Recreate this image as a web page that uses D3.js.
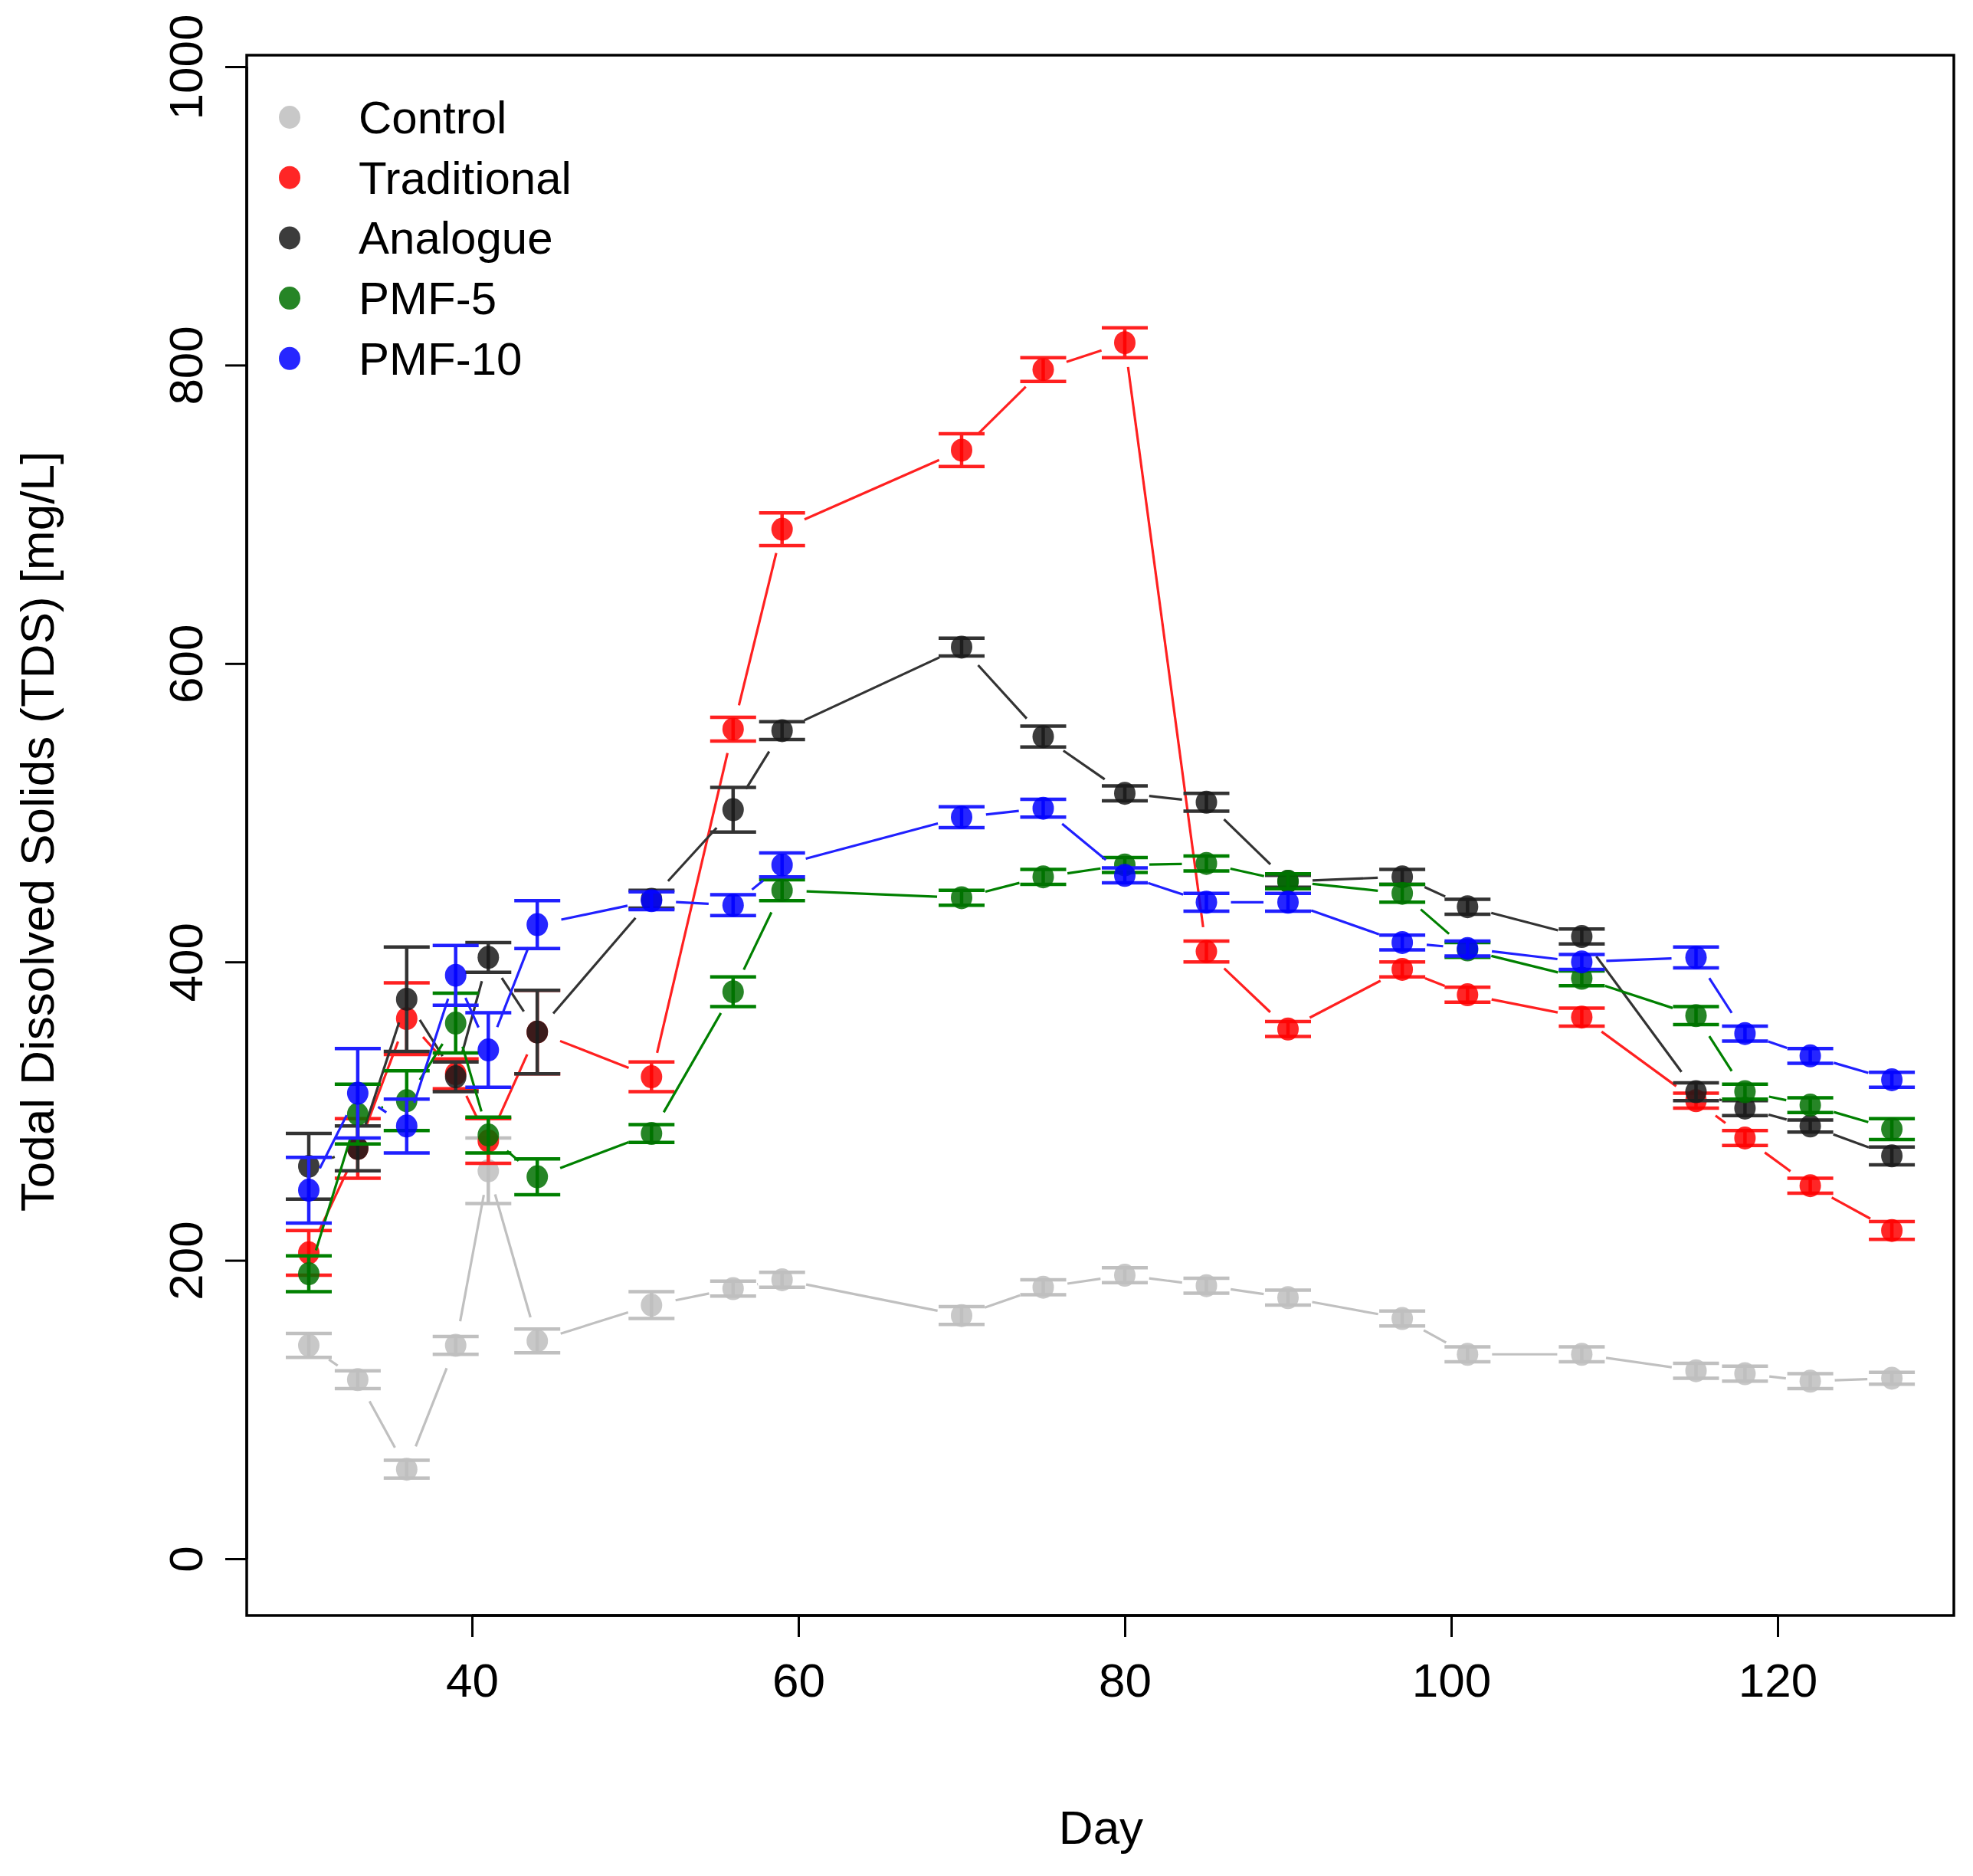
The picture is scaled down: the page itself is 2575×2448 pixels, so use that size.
<!DOCTYPE html>
<html><head><meta charset="utf-8">
<script src="https://cdn.jsdelivr.net/npm/d3@7"></script>
<style>body{margin:0;background:#fff}</style>
</head><body><svg id="c" width="2575" height="2448"></svg>
<script>
const days=[30,33,36,39,41,44,51,56,59,70,75,80,85,90,97,101,108,115,118,122,127];
const seriesNames=["Control","Traditional","Analogue","PMF-5","PMF-10"];
const seriesColors=["#bebebe","#ff0000","#1a1a1a","#007000","#0000ff"];
const lineColors=["#c0c0c0","#ff2020","#333333","#008000","#2020ff"];
const control=[143,120,60,143,260,146,170,181,187,163,182,190,183,175,161,137,137,126,124,119,121];
const traditional=[205,275,362,325,280,353,323,556,690,743,797,815,407,355,395,378,363,307,282,250,220];
const analogue=[263,275,375,323,403,353,442,502,555,611,551,513,507,454,457,437,417,313,302,290,270];
const pmf5=[191,298,307,359,284,256,285,380,448,443,457,465,466,454,446,408,389,364,313,304,288];
const pmf10=[247,312,290,391,341,425,441,438,465,497,503,458,440,440,413,409,400,403,352,337,321];
const errControl=[8,6,6,6,22,8,9,5,5,6,5,5,5,5,5,5,5,5,5,5,4];
const errTraditional=[15,20,24,10,15,28,10,8,11,11,8,10,7,5,5,5,6,5,5,5,6];
const errAnalogue=[22,15,35,10,10,28,6,15,6,6,7,5,6,4,5,5,5,6,5,4,6];
const errPmf5=[12,20,20,20,12,12,6,10,7,5,5,5,5,5,6,5,5,6,5,5,7];
const errPmf10=[22,30,18,20,25,16,6,7,8,7,6,5,6,6,5,5,5,7,5,5,5];
const xTicks=[40,60,80,100,120];
const yTicks=[0,200,400,600,800,1000];
const values=[control,traditional,analogue,pmf5,pmf10];
const errs=[errControl,errTraditional,errAnalogue,errPmf5,errPmf10];

const svg=d3.select("#c");
const L=322,R=2550,T=72,B=2108;
const x=d3.scaleLinear().domain([40,120]).range([616,2320]);
const y=d3.scaleLinear().domain([0,1000]).range([2034,87]);
const font="Liberation Sans, Arial, Helvetica, sans-serif";

// box
svg.append("rect").attr("x",L).attr("y",T).attr("width",R-L).attr("height",B-T)
  .attr("fill","none").attr("stroke","#000").attr("stroke-width",3.5);
// x axis
const gx=svg.append("g").attr("transform",`translate(0,${B})`)
  .call(d3.axisBottom(x).tickValues(xTicks).tickSize(28).tickPadding(34).tickFormat(d3.format("d")));
gx.select(".domain").attr("d",`M${x(40)},0H${x(120)}`).attr("stroke-width",3.5);
const gy=svg.append("g").attr("transform",`translate(${L},0)`)
  .call(d3.axisLeft(y).tickValues(yTicks).tickSize(28).tickPadding(30).tickFormat(d3.format("d")));
gy.select(".domain").attr("d",`M0,${y(0)}V${y(1000)}`).attr("stroke-width",3.5);
[gx,gy].forEach(g=>{g.selectAll(".tick line").attr("stroke-width",3);
  g.selectAll("text").attr("font-family",font).attr("font-size",62).attr("fill","#000");});
gy.selectAll(".tick text").attr("text-anchor","middle").attr("dy",0)
  .attr("transform",d=>`translate(-78,${y(d)}) rotate(-90) translate(0,${-y(d)})`)
  .attr("x",0).attr("y",d=>y(d)+20);
gy.selectAll(".tick text").each(function(d){d3.select(this).attr("transform",null).attr("x",null).attr("y",null)
  .attr("transform",`translate(-58,0) rotate(-90)`).attr("text-anchor","middle").attr("dy","0");});

svg.append("text").attr("x",1437).attr("y",2406).attr("text-anchor","middle")
  .attr("font-family",font).attr("font-size",62).text("Day");
svg.append("text").attr("transform","translate(70,1085) rotate(-90)").attr("text-anchor","middle")
  .attr("font-family",font).attr("font-size",62).text("Todal Dissolved Solids (TDS) [mg/L]");

const gap=32, cap=30;
values.forEach((vals,si)=>{
  const g=svg.append("g");
  // lines (type b)
  for(let i=0;i<days.length-1;i++){
    const x1=x(days[i]),y1=y(vals[i]),x2=x(days[i+1]),y2=y(vals[i+1]);
    const len=Math.hypot(x2-x1,y2-y1); if(len<=2*gap) continue;
    const ux=(x2-x1)/len,uy=(y2-y1)/len;
    g.append("line").attr("x1",x1+ux*gap).attr("y1",y1+uy*gap).attr("x2",x2-ux*gap).attr("y2",y2-uy*gap)
      .attr("stroke",lineColors[si]).attr("stroke-width",3.2);
  }
  // error bars
  days.forEach((d,i)=>{
    const cx=x(d),lo=y(vals[i]-errs[si][i]),hi=y(vals[i]+errs[si][i]);
    g.append("path").attr("d",`M${cx},${lo}V${hi}M${cx-cap},${lo}H${cx+cap}M${cx-cap},${hi}H${cx+cap}`)
      .attr("stroke",lineColors[si]).attr("stroke-width",4.5).attr("fill","none");
  });
  days.forEach((d,i)=>{
    g.append("ellipse").attr("cx",x(d)).attr("cy",y(vals[i])).attr("rx",14).attr("ry",15)
      .attr("fill",seriesColors[si]).attr("fill-opacity",0.85);
  });
});

// legend
seriesNames.forEach((n,i)=>{
  const ly=153+i*78.7;
  svg.append("ellipse").attr("cx",378).attr("cy",ly).attr("rx",14).attr("ry",15)
    .attr("fill",seriesColors[i]).attr("fill-opacity",0.85);
  svg.append("text").attr("x",468).attr("y",ly+21).attr("font-family",font).attr("font-size",60).text(n);
});
</script></body></html>
